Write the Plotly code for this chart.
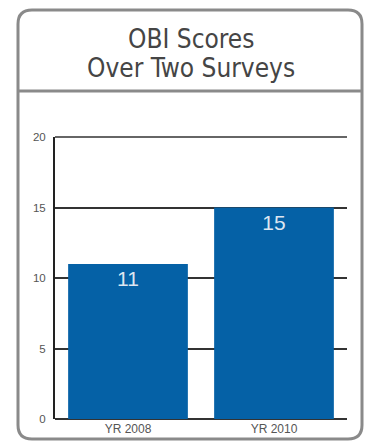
import plotly.graph_objects as go

categories = ["YR 2008", "YR 2010"]
scores = [11, 15]
bar_labels = ["11", "15"]
y_ticks = [0, 5, 10, 15, 20]
title_lines = ["OBI Scores", "Over Two Surveys"]

W, H = 366, 445
L, R, T, B = 55, 347, 137, 419  # plot area in pixels

def px(x):
    return (x - L) / (R - L)

def py(y):
    return (B - y) / (B - T)

fig = go.Figure(go.Bar(
    x=categories, y=scores, text=bar_labels,
    textposition="inside", insidetextanchor="end",
    textfont=dict(color="#dde6f1", size=21, family="Liberation Sans, Arial"),
    marker=dict(color="#0561a6", line=dict(width=0)),
    hoverinfo="skip",
))

# outer rounded box
x0, x1, y0, y1, r = 18, 362, 10, 439, 14
path = (f"M {px(x0+r)},{py(y0)} L {px(x1-r)},{py(y0)} Q {px(x1)},{py(y0)} {px(x1)},{py(y0+r)} "
        f"L {px(x1)},{py(y1-r)} Q {px(x1)},{py(y1)} {px(x1-r)},{py(y1)} "
        f"L {px(x0+r)},{py(y1)} Q {px(x0)},{py(y1)} {px(x0)},{py(y1-r)} "
        f"L {px(x0)},{py(y0+r)} Q {px(x0)},{py(y0)} {px(x0+r)},{py(y0)} Z")
shapes = [
    dict(type="path", xref="paper", yref="paper", path=path,
         line=dict(color="#8a8a8a", width=3), layer="above"),
    dict(type="line", xref="paper", yref="paper",
         x0=px(x0), x1=px(x1), y0=py(91), y1=py(91),
         line=dict(color="#8a8a8a", width=3)),
    # top gridline at the range maximum (paper y=1 avoids clipping)
    dict(type="line", xref="paper", yref="paper", x0=0, x1=1, y0=1, y1=1,
         line=dict(color="#333333", width=1.5), layer="below"),
]

title_font = dict(family="DejaVu Sans Condensed, DejaVu Sans", size=26, color="#454545")
annotations = [
    dict(text=title_lines[0], xref="paper", yref="paper", x=px(191), y=py(39),
         xanchor="center", yanchor="middle", showarrow=False, font=title_font),
    dict(text=title_lines[1], xref="paper", yref="paper", x=px(191), y=py(68),
         xanchor="center", yanchor="middle", showarrow=False, font=title_font),
]

fig.update_layout(
    width=W, height=H,
    margin=dict(l=L, r=W - R, t=T, b=H - B, pad=0),
    paper_bgcolor="white", plot_bgcolor="white",
    showlegend=False, bargap=0.18,
    shapes=shapes, annotations=annotations,
    xaxis=dict(showgrid=False, zeroline=False, showline=False, ticks="",
               automargin=False, ticklabelstandoff=1,
               tickfont=dict(family="Liberation Sans, Arial", size=12, color="#555555")),
    yaxis=dict(range=[0, 20], tickvals=y_ticks, showgrid=True, gridcolor="#333333",
               gridwidth=1.5, zeroline=True, zerolinecolor="#333333", zerolinewidth=1.5,
               showline=True, linecolor="#222222", linewidth=2, ticks="",
               automargin=False, ticklabelstandoff=5,
               tickfont=dict(family="Liberation Sans, Arial", size=11.5, color="#555555")),
)

fig.write_html("out.html")
